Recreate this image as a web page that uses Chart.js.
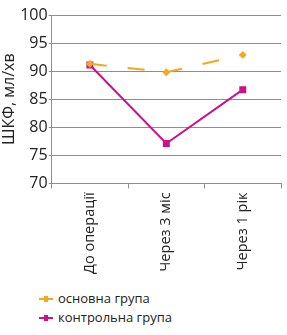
<!DOCTYPE html>
<html>
<head>
<meta charset="utf-8">
<script src="https://cdn.jsdelivr.net/npm/chart.js@4"></script>
<style>
  body { margin: 0; background: #fff; font-family: "Open Sans", sans-serif; }
  #wrap { width: 287px; height: 278px; position: relative; }
  #legend { margin: 11px 0 0 39px; font-size: 13px; color: #222; }
  #legend div { height: 19px; line-height: 19px; display: flex; align-items: center; }
  #legend span.m { display: inline-block; width: 14px; height: 2px; margin-right: 5px; position: relative; }
  #legend span.m i { position: absolute; left: 5px; top: -2px; width: 4px; height: 6px; }
</style>
</head>
<body>
<div id="wrap"><canvas id="chart"></canvas></div>
<div id="legend"></div>
<script>
const labels = ["До операції", "Через 3 міс", "Через 1 рік"];
const mainGroup = [91.3, 89.8, 92.9];
const controlGroup = [91.1, 77.1, 86.7];
const seriesNames = ["основна група", "контрольна група"];
const colors = ["#F5A81E", "#CC1188"];

const ctx = document.getElementById("chart").getContext("2d");

new Chart(ctx, {
  type: "line",
  data: {
    labels,
    datasets: [
      {
        label: seriesNames[0],
        data: mainGroup,
        borderColor: colors[0],
        backgroundColor: colors[0],
        borderWidth: 2,
        borderDash: [17, 21],
        pointStyle: "rectRot",
        pointRadius: 2.5,
        tension: 0
      },
      {
        label: seriesNames[1],
        data: controlGroup,
        borderColor: colors[1],
        backgroundColor: colors[1],
        borderWidth: 2,
        pointStyle: "rect",
        pointRadius: 3.5,
        tension: 0
      }
    ]
  },
  options: {
    responsive: true,
    maintainAspectRatio: false,
    animation: false,
    layout: { padding: { top: 15, right: 2, left: 0 } },
    plugins: {
      legend: { display: false },
      tooltip: { enabled: false }
    },
    scales: {
      y: {
        min: 70,
        max: 100,
        ticks: { stepSize: 5, color: "#222", font: { family: "Open Sans", size: 16 }, padding: 1 },
        grid: { color: "#8e8e8e", lineWidth: 1, tickLength: 3 },
        border: { color: "#8e8e8e" },
        title: { display: true, text: "ШКФ, мл/хв", color: "#222", font: { family: "Open Sans", size: 16 }, padding: 0 }
      },
      x: {
        offset: true,
        ticks: { minRotation: 90, maxRotation: 90, color: "#222", font: { family: "Open Sans", size: 14.5 }, padding: 4 },
        grid: { offset: true, drawOnChartArea: false, color: "#8e8e8e", tickLength: 5 },
        border: { color: "#8e8e8e" }
      }
    }
  }
});

// legend under the chart
const legend = document.getElementById("legend");
seriesNames.forEach((name, i) => {
  legend.innerHTML += `<div><span class="m" style="background:${colors[i]}"><i style="background:${colors[i]}"></i></span>${name}</div>`;
});
</script>
</body>
</html>
